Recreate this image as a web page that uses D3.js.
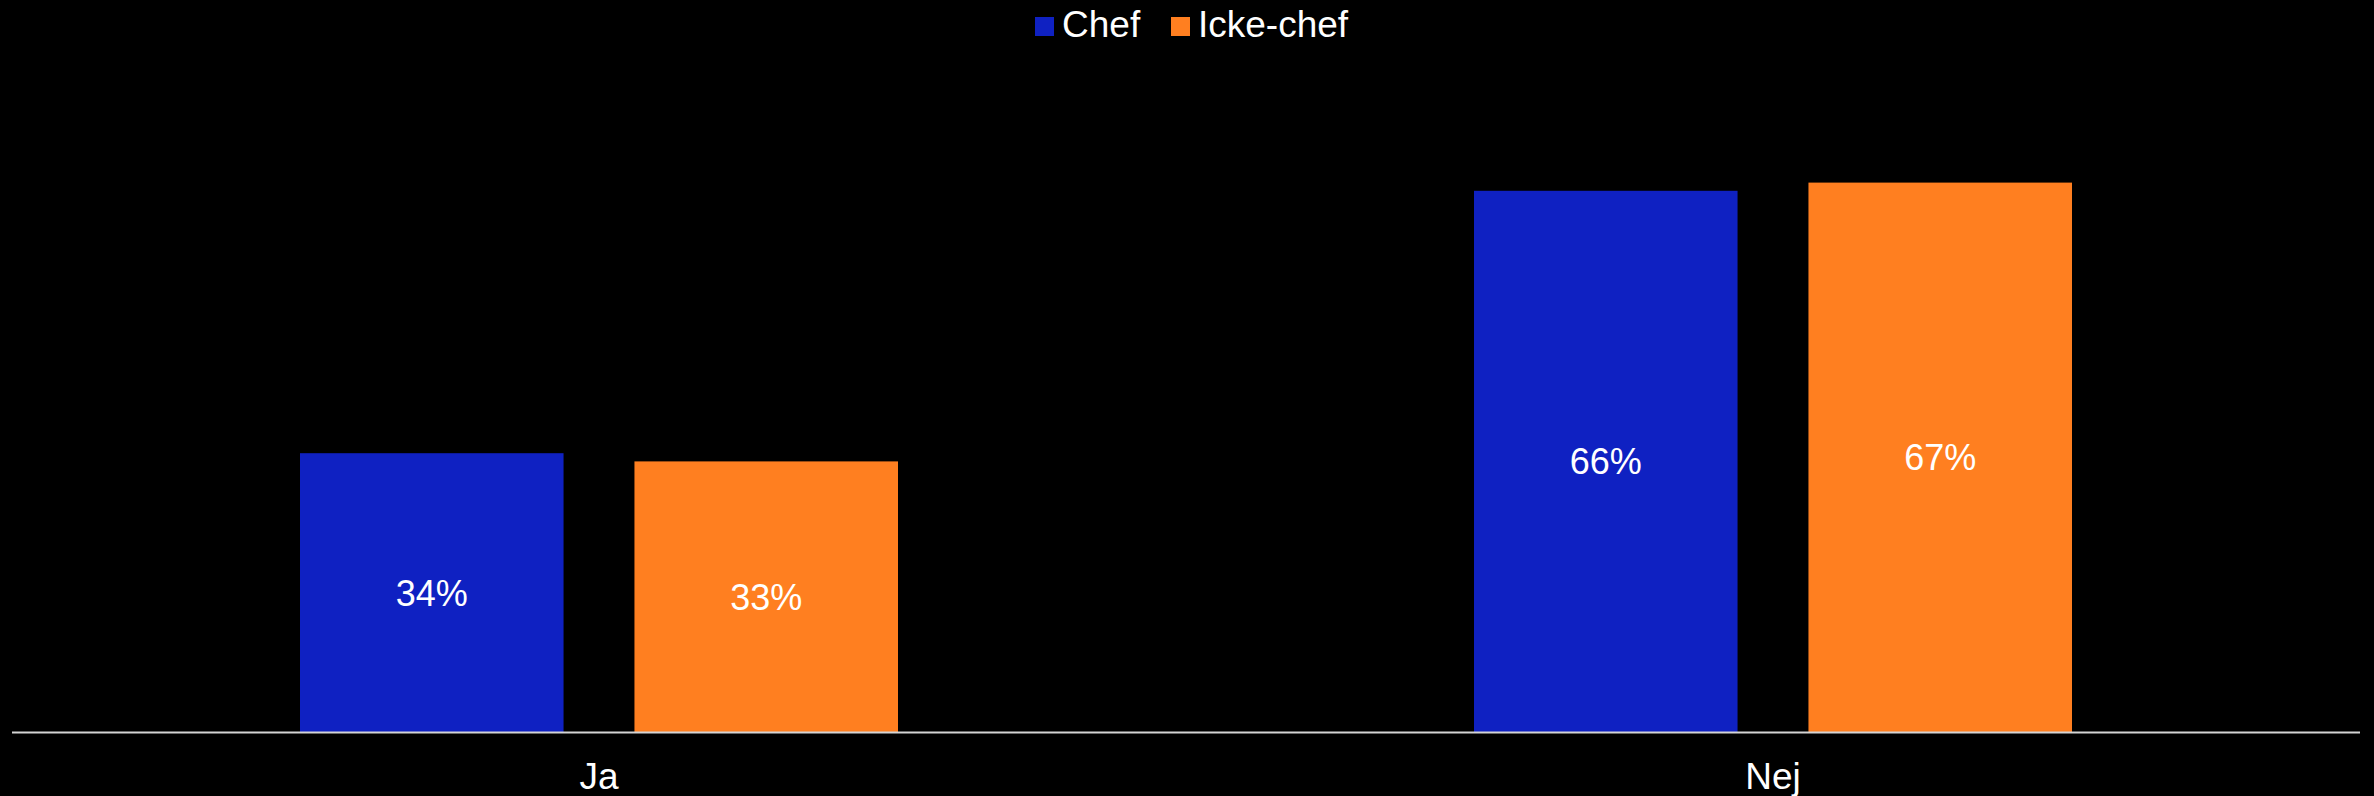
<!DOCTYPE html>
<html>
<head>
<meta charset="utf-8">
<script src="https://cdn.jsdelivr.net/npm/d3@7"></script>
<style>
  html, body { margin: 0; padding: 0; background: #000; }
  svg { display: block; }
  text { font-family: "Liberation Sans", Arial, sans-serif; fill: #fff; }
</style>
</head>
<body>
<svg id="chart" width="2374" height="796"></svg>
<script>
// Answer categories, series and their shares (percent)
const categories = ["Ja", "Nej"];
const seriesNames = ["Chef", "Icke-chef"];
const chefValues = [34, 66];
const ickeChefValues = [33, 67];
const seriesColors = ["#0F21C2", "#FF7F20"];

const W = 2374, H = 796;
const svg = d3.select("#chart");
svg.append("rect").attr("width", W).attr("height", H).attr("fill", "#000");

const seriesValues = [chefValues, ickeChefValues];
const rows = categories.map((c, i) => ({
  category: c,
  values: seriesNames.map((s, j) => ({ series: s, value: seriesValues[j][i], idx: j }))
}));

const plotLeft = 12, plotRight = 2360, baseline = 732;

const x0 = d3.scaleBand().domain(categories).range([plotLeft, plotRight]).padding(0);
const groupPad = 288;
const x1 = d3.scaleBand().domain(seriesNames)
  .range([groupPad, x0.bandwidth() - groupPad])
  .paddingInner(0.212).paddingOuter(0);
const y = d3.scaleLinear().domain([0, 80]).range([baseline, 76]);

const groups = svg.append("g").selectAll("g")
  .data(rows).join("g")
  .attr("transform", d => `translate(${x0(d.category)},0)`);

groups.selectAll("rect")
  .data(d => d.values).join("rect")
  .attr("x", d => x1(d.series))
  .attr("y", d => y(d.value))
  .attr("width", x1.bandwidth())
  .attr("height", d => y(0) - y(d.value))
  .attr("fill", d => seriesColors[d.idx]);

// Value labels centred in each bar
groups.selectAll("text.val")
  .data(d => d.values).join("text")
  .attr("class", "val")
  .attr("x", d => x1(d.series) + x1.bandwidth() / 2)
  .attr("y", d => (y(d.value) + y(0)) / 2 + 13)
  .attr("text-anchor", "middle")
  .attr("font-size", 36)
  .text(d => d.value + "%");

// Category axis
const xAxis = d3.axisBottom(x0).tickSize(0).tickPadding(0);
const axisG = svg.append("g").attr("transform", `translate(0,${baseline + 0.5})`).call(xAxis);
axisG.select(".domain").attr("stroke", "#d4d4d4").attr("stroke-width", 2)
  .attr("d", `M${plotLeft},0H${plotRight}`);
axisG.selectAll(".tick text")
  .attr("y", 56).attr("dy", null)
  .attr("font-size", 37)
  .attr("font-family", "Liberation Sans, Arial, sans-serif")
  .attr("fill", "#fff");

// Legend
const legend = svg.append("g");
const legendItems = [
  { name: seriesNames[0], x: 1035, color: seriesColors[0] },
  { name: seriesNames[1], x: 1171, color: seriesColors[1] }
];
legendItems.forEach(it => {
  legend.append("rect").attr("x", it.x).attr("y", 17).attr("width", 19).attr("height", 19).attr("fill", it.color);
  legend.append("text").attr("x", it.x + 27).attr("y", 36.5).attr("font-size", 37).text(it.name);
});
</script>
</body>
</html>
